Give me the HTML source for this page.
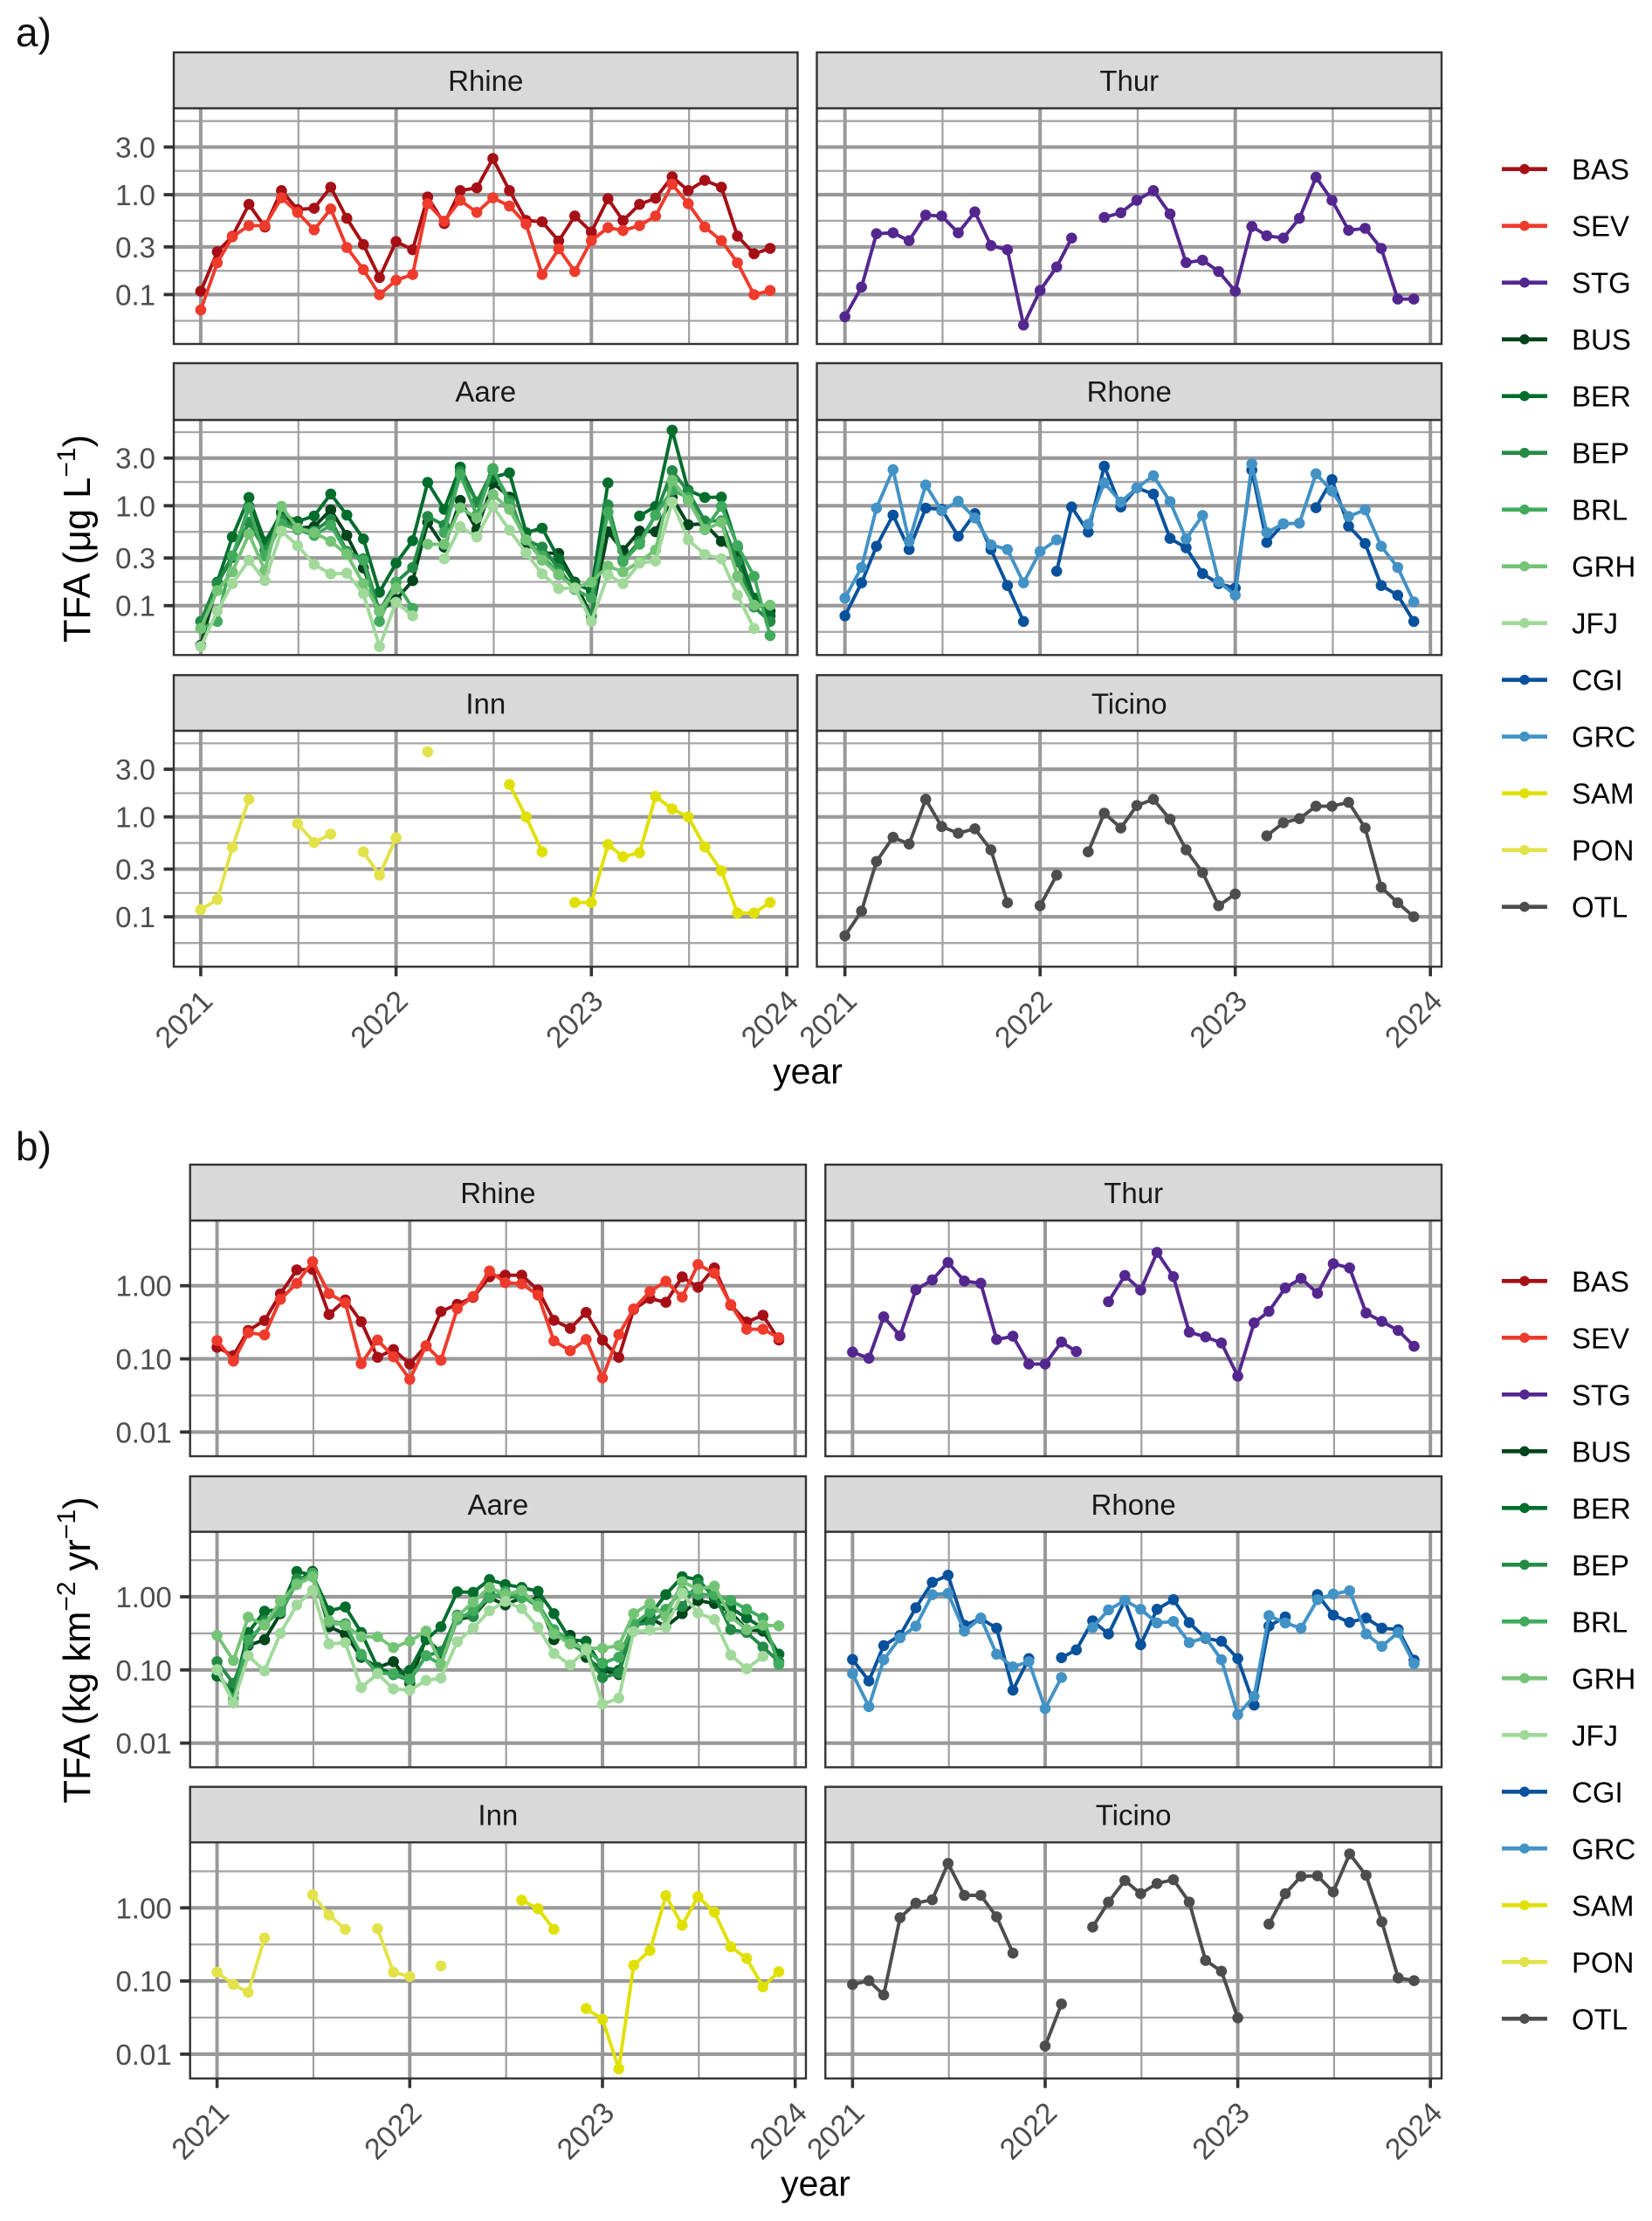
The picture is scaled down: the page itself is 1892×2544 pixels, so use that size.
<!DOCTYPE html>
<html lang="en">
<head>
<meta charset="utf-8">
<title>TFA concentrations and loads by river</title>
<style>
html,body{margin:0;padding:0;background:#fff;}
svg{display:block;font-family:"Liberation Sans",Arial,sans-serif;}
</style>
</head>
<body>
<svg id="chart" xmlns="http://www.w3.org/2000/svg" width="1892" height="2544" viewBox="0 0 1892 2544">
<rect width="1892" height="2544" fill="#fff"/>
<text x="18" y="53" font-size="46" fill="#111">a)</text>
<text x="18" y="1329" font-size="46" fill="#111">b)</text>
<text transform="translate(103,617) rotate(-90)" text-anchor="middle" font-size="43.5" fill="#000">TFA (μg L<tspan dy="-17" font-size="30">−1</tspan><tspan dy="17">)</tspan></text>
<text transform="translate(103,1890) rotate(-90)" text-anchor="middle" font-size="43.5" fill="#000">TFA (kg km<tspan dy="-17" font-size="30">−2</tspan><tspan dy="17"> yr</tspan><tspan dy="-17" font-size="30">−1</tspan><tspan dy="17">)</tspan></text>
<text x="925" y="1241" text-anchor="middle" font-size="41" fill="#000">year</text>
<text x="934" y="2515" text-anchor="middle" font-size="41" fill="#000">year</text>
</svg>
<script>
const n = null;
const xTickYears = [2021, 2022, 2023, 2024];
const xMinorYears = [2021.5, 2022.5, 2023.5];
const yTicksA = [3, 1, 0.3, 0.1];
const yTickLabelsA = ['3.0', '1.0', '0.3', '0.1'];
const yMinorA = [5.46, 1.73, 0.548, 0.173, 0.0546];
const yTicksB = [1, 0.1, 0.01];
const yTickLabelsB = ['1.00', '0.10', '0.01'];
const yMinorB = [3.16, 0.316, 0.0316];
const stations = ['BAS','SEV','STG','BUS','BER','BEP','BRL','GRH','JFJ','CGI','GRC','SAM','PON','OTL'];
const stationColors = ['#A50F15','#EF3B2C','#54278F','#00441B','#006D2C','#238B45','#41AB5D','#74C476','#A1D99B','#08519C','#4292C6','#E0E000','#E2E24A','#4D4D4D'];
const riversLeftRight = ['Rhine','Thur','Aare','Rhone','Inn','Ticino'];

/* a) concentration, ug/L, monthly Jan 2021 - Dec 2023 */
const aBAS = [.108,.268,.383,.80,.475,1.10,.71,.73,1.19,.58,.317,.148,.339,.281,.947,.514,1.10,1.17,2.3,1.10,.553,.535,.344,.612,.423,.91,.55,.80,.92,1.51,1.10,1.39,1.19,.385,.256,.29];
const aSEV = [.07,.208,.378,.49,.49,.93,.664,.444,.72,.296,.178,.0995,.139,.159,.812,.543,.88,.664,.93,.77,.507,.159,.287,.17,.346,.468,.437,.49,.612,1.27,.812,.475,.346,.208,.0995,.11];
const aSTG = [.06,.119,.407,.415,.346,.625,.612,.415,.673,.309,.281,.0495,.11,.189,.368,n,.592,.659,.88,1.10,.642,.209,.221,.17,.108,.481,.388,.368,.58,1.5,.88,.44,.461,.29,.09,.09];
const aBUS = [.04,.166,.305,.987,.412,.863,.596,.617,.91,.504,.238,.088,.115,.178,.682,.385,1.13,.577,1.69,1.22,.412,.337,.333,.172,.079,.55,.356,.558,.55,1.21,.646,.659,.44,.326,.119,.088];
const aBER = [.0695,.172,.487,1.21,.435,.834,.696,.79,1.31,.806,.465,.136,.266,.447,1.71,.92,2.44,1.09,1.93,2.13,.539,.596,.295,.166,.141,1.69,n,.79,.987,5.7,1.43,1.21,1.22,.385,.119,.079];
const aBEP = [.0695,.166,.315,.682,.36,.73,.596,.558,.73,.349,.295,.088,.172,.241,.78,.638,2.21,1.09,2.28,1.13,.456,.385,.233,.146,.079,1.02,.285,.44,.806,2.24,1.38,.705,.705,.275,.097,.0695];
const aBRL = [.059,.0695,.315,.954,.315,.659,.577,.504,.638,.337,.285,.0695,.172,.094,n,.539,2.06,.806,2.36,1.05,.456,.315,.211,.146,.119,.863,.275,.412,.806,1.43,1.21,.577,.987,.399,.197,.05];
const aGRH = [.059,.141,.218,.521,.225,.987,.596,.539,.44,.326,.166,.088,.15,n,.412,.412,.954,.754,1.29,.92,.456,.285,.203,.15,.172,.249,.218,.275,.36,1.80,1.13,.577,.682,.197,.101,.101];
const aJFJ = [.039,.088,.166,.285,.178,.558,.399,.258,.208,.211,.132,.039,.108,.079,n,.295,.617,.487,.987,.569,.337,.208,.148,.15,.0695,.203,.166,.266,.279,1.09,.456,.326,.295,.127,.059,n];
const aCGI = [.079,.169,.393,.806,.365,.947,.92,.494,.834,.365,.159,.0695,n,.221,.973,.546,2.49,.973,1.51,1.31,.471,.38,.209,.166,.15,2.28,.429,.659,n,.954,1.83,.625,.418,.159,.127,.0695];
const aGRC = [.119,.241,.947,2.3,.44,1.61,.892,1.11,.754,.407,.365,.169,.348,.456,n,.651,1.69,1.09,1.51,2.0,1.10,.465,.80,.174,.127,2.63,.539,.659,.668,2.09,1.40,.78,.91,.393,.241,.109];
const aPON = [.118,.149,.497,1.5,n,n,.857,.553,.673,n,.447,.261,.617,n,4.5,n,n,n,n,n,n,n,n,n,n,n,n,n,n,n,n,n,n,n,n,n];
const aSAM = [n,n,n,n,n,n,n,n,n,n,n,n,n,n,n,n,n,n,n,2.11,1.0,.447,n,.139,.139,.528,.399,.437,1.6,1.2,1.0,.5,.288,.109,.109,.139];
const aOTL = [.0645,.114,.358,.625,.535,1.5,.80,.687,.76,.468,.138,n,.129,.261,n,.447,1.09,.775,1.30,1.5,.947,.468,.277,.129,.169,n,.646,.874,.96,1.28,1.28,1.40,.775,.198,.138,.1];

/* b) specific load, kg/km2/yr, monthly Jan 2021 - Dec 2023 */
const bBAS = [.144,.111,.245,.334,.774,1.65,1.67,.404,.639,.322,.105,.134,.085,.151,.443,.557,.694,1.32,1.39,1.39,.872,.337,.261,.431,.181,.105,.473,.669,.594,1.32,.955,1.75,.542,.319,.394,.181];
const bSEV = [.178,.093,.228,.213,.651,1.08,2.13,.781,.583,.086,.181,.107,.0526,.151,.0955,.486,.713,1.59,1.10,1.06,.746,.176,.129,.184,.055,.215,.481,.833,1.15,.70,1.95,1.48,.552,.254,.254,.195];
const bSTG = [.124,.102,.376,.207,.88,1.2,2.08,1.16,1.08,.184,.204,.085,.085,.17,.126,n,.605,1.38,.872,2.86,1.33,.232,.2,.165,.058,.31,.447,.93,1.26,.788,2.0,1.75,.424,.325,.245,.149];
const bBUS = [.0825,.05,.215,.259,.589,1.61,2.21,.39,.31,.149,.108,.13,.0657,.271,.171,.49,.537,.973,.774,.973,.888,.259,.297,.149,.099,.0865,.427,.513,.39,.589,.888,.81,.616,.356,.34,.164];
const bBER = [.0825,.05,.325,.633,.675,2.21,1.98,.645,.726,.325,.108,.0865,.099,.259,.39,1.17,1.15,1.72,1.47,1.34,1.19,.589,.259,.247,.108,.099,.427,.562,1.07,1.88,1.72,.973,.707,.513,.373,.164];
const bBEP = [.13,.0657,.226,.468,.645,1.76,1.88,.468,.427,.156,.0947,.0865,.072,.156,.179,.562,.537,1.12,.973,1.02,.74,.325,.226,.171,.079,.09,.408,.447,.616,.74,1.54,1.07,.356,.325,.206,.13];
const bBRL = [.099,.04,.259,.427,.616,1.54,2.11,.447,.408,.164,.09,.089,.075,.156,.119,.49,.645,.973,1.17,.973,.81,.356,.247,.188,.124,.149,.427,.616,.675,1.22,1.07,1.07,.888,.675,.513,.119];
const bGRH = [.297,.134,.527,.408,.872,1.47,1.88,.468,.408,.284,.284,.202,.247,.34,.119,.537,.848,1.34,1.07,1.22,.74,.31,.226,.197,.197,.215,.589,.81,.537,1.61,1.28,1.4,.537,.356,.408,.401];
const bJFJ = [.101,.0355,.156,.097,.316,.774,1.22,.226,.236,.0574,.089,.055,.053,.072,.0775,.243,.373,.645,.864,.688,.383,.168,.117,.188,.034,.041,.334,.35,.383,1.12,.6,.49,.16,.104,.153,n];
const bCGI = [.139,.0707,.215,.297,.707,1.58,1.97,.408,.504,.373,.053,.143,n,.147,.188,.468,.31,.888,.221,.675,.913,.443,.271,.247,.143,.033,.397,.532,n,1.07,.562,.447,.513,.373,.356,.136];
const bGRC = [.089,.0315,.138,.275,.397,1.07,1.11,.34,.513,.164,.11,.13,.0296,.079,n,.38,.663,.888,.675,.439,.46,.236,.278,.138,.0245,.0435,.552,.439,.373,.913,1.09,1.21,.31,.21,.325,.122];
const bPON = [.132,.0896,.07,.387,n,n,1.51,.796,.508,n,.518,.132,.115,n,.161,n,n,n,n,n,n,n,n,n,n,n,n,n,n,n,n,n,n,n,n,n];
const bSAM = [n,n,n,n,n,n,n,n,n,n,n,n,n,n,n,n,n,n,n,1.27,.973,.508,n,.042,.03,.0063,.164,.261,1.47,.578,1.42,.872,.294,.204,.0832,.134];
const bOTL = [.0896,.101,.0645,.733,1.16,1.29,4.05,1.48,1.48,.753,.24,n,.0129,.0486,n,.547,1.2,2.36,1.56,2.15,2.43,1.2,.191,.136,.0314,n,.6,1.56,2.7,2.73,1.65,5.47,2.78,.645,.11,.101];

const monthDays = [0,31,59,90,120,151,181,212,243,273,304,334];
const SVGNS = 'http://www.w3.org/2000/svg';
const svg = document.getElementById('chart');

function el(tag, attrs, parent) {
  const e = document.createElementNS(SVGNS, tag);
  for (const k in attrs) e.setAttribute(k, attrs[k]);
  (parent || svg).appendChild(e);
  return e;
}
function monthToYear(i) {
  const y = Math.floor(i / 12);
  return 2021 + y + monthDays[i % 12] / 365;
}

function drawPanel(fig, row, col, name, seriesList, isBottom, isLeft) {
  const xScale = yr => col.x0 + (yr - 2021) * col.yw;
  const yScale = v => row.y1 - Math.log10(v) * fig.decade;
  const g = el('g', {});
  
  

  el('rect', {x: col.l, y: row.top, width: col.r - col.l, height: row.bot - row.top, fill: '#fff'}, g);

  fig.minor.forEach(v => {
    const l = el('line', {x1: col.l, x2: col.r, y1: yScale(v), y2: yScale(v), stroke: '#a6a6a6', 'stroke-width': 2.3}, g);
    
    
  });
  xMinorYears.forEach(yr => {
    const l = el('line', {x1: xScale(yr), x2: xScale(yr), y1: row.top, y2: row.bot, stroke: '#a0a0a0', 'stroke-width': 2.2}, g);
    
    
  });
  fig.ticks.forEach(v => {
    const l = el('line', {x1: col.l, x2: col.r, y1: yScale(v), y2: yScale(v), stroke: '#999', 'stroke-width': 4.2}, g);
    
    
  });
  xTickYears.forEach(yr => {
    const l = el('line', {x1: xScale(yr), x2: xScale(yr), y1: row.top, y2: row.bot, stroke: '#999', 'stroke-width': 4}, g);
    
    
  });

  seriesList.forEach(([code, values]) => {
    const color = stationColors[stations.indexOf(code)];
    const sg = el('g', {}, g);
    
    
    let seg = [];
    const flush = () => {
      if (seg.length > 1) {
        const p = el('polyline', {points: seg.join(' '), fill: 'none', stroke: color, 'stroke-width': 3.9, 'stroke-linejoin': 'round'}, sg);
        
        
      }
      seg = [];
    };
    values.forEach((v, i) => {
      if (v === null) { flush(); return; }
      seg.push(xScale(monthToYear(i)).toFixed(1) + ',' + yScale(v).toFixed(1));
    });
    flush();
    values.forEach((v, i) => {
      if (v === null) return;
      const c = el('circle', {cx: xScale(monthToYear(i)).toFixed(1), cy: yScale(v).toFixed(1), r: 6.3, fill: color}, sg);
      
      
    });
  });

  el('rect', {x: col.l, y: row.top, width: col.r - col.l, height: row.bot - row.top, fill: 'none', stroke: '#333', 'stroke-width': 2.4}, g);
  const strip = el('rect', {x: col.l, y: row.strip, width: col.r - col.l, height: row.top - row.strip, fill: '#D9D9D9', stroke: '#333', 'stroke-width': 2.4}, g);
  
  
  const st = el('text', {x: (col.l + col.r) / 2, y: row.strip + 44, 'text-anchor': 'middle', 'font-size': 33, fill: '#1A1A1A'}, g);
  st.textContent = name;
  
  

  if (isLeft) {
    fig.ticks.forEach((v, i) => {
      const t = el('line', {x1: col.l - 11.5, x2: col.l, y1: yScale(v), y2: yScale(v), stroke: '#333', 'stroke-width': 3.8}, g);
      
      
      const lb = el('text', {x: col.l - 21, y: yScale(v) + 12, 'text-anchor': 'end', 'font-size': 33, fill: '#4D4D4D'}, g);
      lb.textContent = fig.labels[i];
      
      
    });
  }
  if (isBottom) {
    xTickYears.forEach(yr => {
      const x = xScale(yr);
      const t = el('line', {x1: x, x2: x, y1: row.bot, y2: row.bot + 11, stroke: '#333', 'stroke-width': 3.6}, g);
      
      
      const px = x + 15.5, py = row.bot + 41.5;
      const lb = el('text', {transform: 'translate(' + px + ',' + py + ') rotate(-45)', 'text-anchor': 'end', 'font-size': 34, fill: '#4D4D4D'}, g);
      lb.textContent = yr;
      
      
    });
  }
}

function drawLegend(y0, id) {
  const g = el('g', {});
  
  
  stations.forEach((s, i) => {
    const y = y0 + i * 65;
    const e = el('g', {}, g);
    
    
    el('line', {x1: 1720, x2: 1772, y1: y, y2: y, stroke: stationColors[i], 'stroke-width': 4.6}, e);
    el('circle', {cx: 1746, cy: y, r: 5.8, fill: stationColors[i]}, e);
    const t = el('text', {x: 1800, y: y + 12, 'font-size': 33, fill: '#000'}, e);
    t.textContent = s;
  });
}

const figA = {
  id: 'a', decade: 114.4, ticks: yTicksA, labels: yTickLabelsA, minor: yMinorA,
  rows: [
    {strip: 60, top: 124, bot: 394, y1: 223},
    {strip: 416, top: 481, bot: 750.3, y1: 579.3},
    {strip: 773.3, top: 837, bot: 1107.3, y1: 935.7}
  ],
  cols: [
    {l: 199, r: 913.5, x0: 229.9, yw: 223.7},
    {l: 935.5, r: 1651, x0: 967.7, yw: 223.5}
  ],
  series: [
    [['BAS', aBAS], ['SEV', aSEV]],
    [['STG', aSTG]],
    [['BUS', aBUS], ['BER', aBER], ['BEP', aBEP], ['BRL', aBRL], ['GRH', aGRH], ['JFJ', aJFJ]],
    [['CGI', aCGI], ['GRC', aGRC]],
    [['SAM', aSAM], ['PON', aPON]],
    [['OTL', aOTL]]
  ]
};
const figB = {
  id: 'b', decade: 83.8, ticks: yTicksB, labels: yTickLabelsB, minor: yMinorB,
  rows: [
    {strip: 1334, top: 1398, bot: 1668, y1: 1472.7},
    {strip: 1691, top: 1754.5, bot: 2024.3, y1: 1829},
    {strip: 2046.7, top: 2110.3, bot: 2380.7, y1: 2185.3}
  ],
  cols: [
    {l: 217.7, r: 923, x0: 248.6, yw: 220.7},
    {l: 945.3, r: 1651, x0: 976.4, yw: 220.6}
  ],
  series: [
    [['BAS', bBAS], ['SEV', bSEV]],
    [['STG', bSTG]],
    [['BUS', bBUS], ['BER', bBER], ['BEP', bBEP], ['BRL', bBRL], ['GRH', bGRH], ['JFJ', bJFJ]],
    [['CGI', bCGI], ['GRC', bGRC]],
    [['SAM', bSAM], ['PON', bPON]],
    [['OTL', bOTL]]
  ]
};

[figA, figB].forEach(fig => {
  riversLeftRight.forEach((name, i) => {
    const r = Math.floor(i / 2), c = i % 2;
    drawPanel(fig, fig.rows[r], fig.cols[c], name, fig.series[i], r === 2, c === 0);
  });
});
drawLegend(193.7, 'a');
drawLegend(1467.3, 'b');
</script>
</body>
</html>
